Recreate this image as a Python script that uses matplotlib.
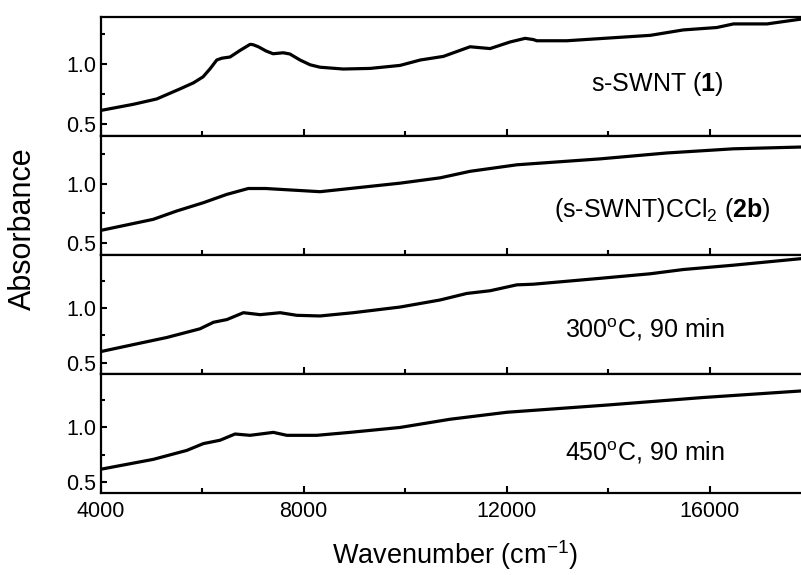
import numpy as np
import matplotlib as mpl
mpl.use('Agg')
import matplotlib.pyplot as plt
from matplotlib.ticker import MultipleLocator

plt.rcParams['font.family'] = ['Liberation Sans', 'DejaVu Sans']
mpl.rcParams['mathtext.fontset'] = 'custom'
mpl.rcParams['mathtext.rm'] = 'Liberation Sans'
mpl.rcParams['mathtext.it'] = 'Liberation Sans:italic'
mpl.rcParams['mathtext.bf'] = 'Liberation Sans:bold'

# spectra (wavenumber in cm-1, absorbance)
wn1 = [4000, 4650, 5107, 5567, 5830, 6020, 6160, 6290, 6390, 6552, 6750, 6946, 7000,
       7110, 7260, 7400, 7600, 7730, 7930, 8130, 8325, 8780, 9310, 9900, 10300, 10755,
       11280, 11675, 12070, 12365, 12525, 12595, 13185, 14830, 15480, 16140, 16470,
       17130, 17800]
ab1 = [0.61, 0.662, 0.706, 0.79, 0.84, 0.89, 0.958, 1.03, 1.045, 1.055, 1.11, 1.16, 1.158,
       1.14, 1.105, 1.082, 1.09, 1.08, 1.03, 0.99, 0.97, 0.955, 0.96, 0.985, 1.03, 1.06,
       1.14, 1.125, 1.18, 1.21, 1.20, 1.19, 1.19, 1.235, 1.28, 1.30, 1.33,
       1.33, 1.37]

wn2 = [4000, 5040, 5500, 6025, 6485, 6910, 7250, 8325, 8915, 9900, 10690, 11280,
       12200, 13840, 15160, 16470, 17800]
ab2 = [0.606, 0.70, 0.77, 0.84, 0.91, 0.96, 0.96, 0.933, 0.96, 1.005, 1.05, 1.105,
       1.16, 1.21, 1.26, 1.295, 1.31]

wn3 = [4000, 4780, 5305, 5960, 6225, 6490, 6815, 7145, 7540, 7865, 8325, 8980, 9900,
       10690, 11215, 11675, 12200, 12525, 13840, 14830, 15480, 16470, 17800]
ab3 = [0.60, 0.678, 0.73, 0.81, 0.87, 0.895, 0.958, 0.94, 0.958, 0.934, 0.928, 0.958,
       1.01, 1.075, 1.135, 1.16, 1.214, 1.22, 1.274, 1.316, 1.355, 1.395, 1.455]

wn4 = [4000, 5040, 5700, 6025, 6355, 6650, 6946, 7405, 7670, 8260, 8915, 9900,
       10885, 12005, 13975, 15870, 17800]
ab4 = [0.617, 0.708, 0.79, 0.852, 0.883, 0.94, 0.928, 0.955, 0.928, 0.928, 0.955,
       1.0, 1.075, 1.139, 1.205, 1.274, 1.334]

labels = [r's-SWNT ($\mathbf{1}$)',
          r'(s-SWNT)CCl$_2$ ($\mathbf{2b}$)',
          r'300$^{\mathrm{o}}$C, 90 min',
          r'450$^{\mathrm{o}}$C, 90 min']

ylims = [(0.40, 1.39), (0.40, 1.405), (0.395, 1.49), (0.40, 1.49)]

# label positions in axes fractions
lab_pos = [(0.70, 0.38), (0.648, 0.32), (0.663, 0.305), (0.663, 0.275)]

fig, axes = plt.subplots(4, 1, sharex=True, figsize=(8.01, 5.75), dpi=100)
fig.subplots_adjust(left=0.1255, right=1.0, top=1 - 16.7 / 575, bottom=1 - 493.0 / 575,
                    hspace=0)

for ax, w, a, lab, yl, pos in zip(axes, (wn1, wn2, wn3, wn4), (ab1, ab2, ab3, ab4),
                                  labels, ylims, lab_pos):
    ax.plot(w, a, color='k', linewidth=2.3, solid_joinstyle='round')
    ax.set_xlim(4000, 17800)
    ax.set_ylim(*yl)
    ax.set_yticks([0.5, 1.0])
    ax.set_yticklabels(['0.5', '1.0'])
    ax.yaxis.set_minor_locator(MultipleLocator(0.25))
    ax.xaxis.set_major_locator(MultipleLocator(4000))
    ax.xaxis.set_minor_locator(MultipleLocator(2000))
    ax.tick_params(direction='in', which='major', length=4.5, width=1.5, labelsize=15.5, pad=3)
    ax.tick_params(direction='in', which='minor', length=2.8, width=1.5)
    ax.tick_params(axis='x', which='major', length=5, pad=6)
    ax.tick_params(axis='x', which='minor', length=3.5)
    for s in ['top', 'bottom', 'left']:
        ax.spines[s].set_linewidth(1.6)
    ax.spines['right'].set_visible(False)
    ax.text(pos[0], pos[1], lab, transform=ax.transAxes, fontsize=18, ha='left',
            va='baseline')

axes[-1].set_xticks([4000, 8000, 12000, 16000])
axes[-1].set_xticklabels(['4000', '8000', '12000', '16000'])

fig.text(455 / 801, 1 - 555 / 575, r'Wavenumber (cm$^{-1}$)', fontsize=19.5,
         ha='center', va='center')
fig.text(23 / 801, 1 - 229 / 575, 'Absorbance', fontsize=22, rotation=90,
         ha='center', va='center')

fig.savefig('out.png', dpi=100)
